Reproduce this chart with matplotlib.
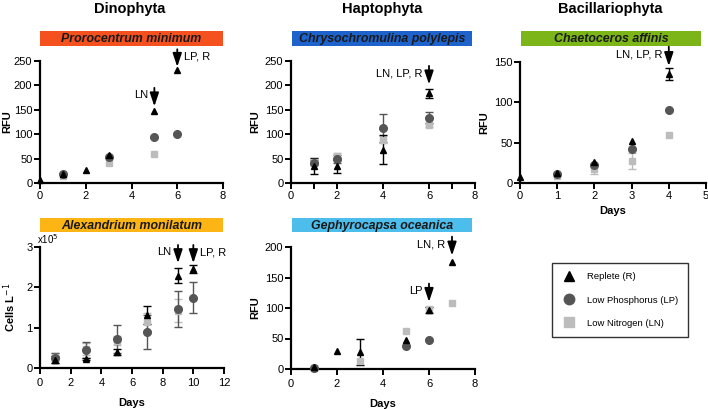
import numpy as np
import matplotlib.pyplot as plt
from matplotlib.lines import Line2D

plt.rcParams['font.family'] = ['Liberation Sans', 'DejaVu Sans']

# colours
c_R = 'black'
c_LP = '#555555'
c_LN = '#bcbcbc'

# --- Prorocentrum minimum (Dinophyta), RFU
pro_R_x = [0, 1, 2, 3, 5, 6]
pro_R_y = [7, 19, 26, 58, 147, 231]
pro_LP_x = [1, 3, 5, 6]
pro_LP_y = [18, 54, 95, 101]
pro_LN_x = [1, 3, 5]
pro_LN_y = [15, 40, 60]

# --- Chrysochromulina polylepis (Haptophyta), RFU
chr_R_x = [1, 2, 4, 6]
chr_R_y = [35, 34, 68, 184]
chr_R_err = [16, 14, 30, 9]
chr_LP_x = [1, 2, 4, 6]
chr_LP_y = [42, 50, 112, 134]
chr_LP_err = [6, 8, 29, 12]
chr_LN_x = [1, 2, 4, 6]
chr_LN_y = [44, 56, 89, 118]
chr_LN_err = [5, 5, 8, 3]

# --- Chaetoceros affinis (Bacillariophyta), RFU
cha_R_x = [0, 1, 2, 3, 4]
cha_R_y = [7, 13, 26, 52, 135]
cha_R_err = [0, 0, 0, 0, 7]
cha_LP_x = [1, 2, 3, 4]
cha_LP_y = [11, 22, 42, 90]
cha_LN_x = [1, 2, 3, 4]
cha_LN_y = [9, 17, 27, 60]
cha_LN_err = [0, 6, 10, 0]

# --- Alexandrium monilatum (Dinophyta), cells L-1 (x10^5)
ale_R_x = [1, 3, 5, 7, 9, 10]
ale_R_y = [0.21, 0.23, 0.40, 1.31, 2.29, 2.46]
ale_R_err = [0.08, 0.03, 0.08, 0.23, 0.18, 0.10]
ale_LP_x = [1, 3, 5, 7, 9, 10]
ale_LP_y = [0.25, 0.44, 0.72, 0.89, 1.46, 1.74]
ale_LP_err = [0.12, 0.20, 0.35, 0.42, 0.45, 0.38]
ale_LN_x = [1, 3, 5, 7, 9]
ale_LN_y = [0.27, 0.48, 0.68, 1.14, 1.42]
ale_LN_err = [0.10, 0.15, 0.12, 0.22, 0.29]

# --- Gephyrocapsa oceanica (Haptophyta), RFU
gep_R_x = [1, 2, 3, 5, 6, 7]
gep_R_y = [4, 30, 28, 48, 96, 175]
gep_R_err = [0, 0, 21, 0, 5, 0]
gep_LP_x = [1, 5, 6]
gep_LP_y = [2, 38, 48]
gep_LN_x = [1, 3, 5, 6, 7]
gep_LN_y = [2, 13, 63, 98, 109]

W, H = 708, 409
fig = plt.figure(figsize=(W / 100, H / 100), dpi=100)


def box(l, t, r, b):
    return [l / W, 1 - b / H, (r - l) / W, (b - t) / H]


def style(ax, xlim, xticks, ylim, yticks, xpad=1.5):
    ax.set_xlim(*xlim)
    ax.set_ylim(*ylim)
    ax.set_xticks(xticks)
    ax.set_yticks(yticks)
    for s in ['top', 'right']:
        ax.spines[s].set_visible(False)
    for s in ['left', 'bottom']:
        ax.spines[s].set_linewidth(1.6)
    ax.tick_params(direction='out', length=4, width=1.4, labelsize=8, pad=1.5)
    ax.tick_params(axis='x', pad=xpad)


def series(ax, x, y, err, color, marker, ms):
    if err is None:
        err = [0] * len(x)
    e = np.array(err, dtype=float)
    ax.errorbar(x, y, yerr=np.where(e > 0, e, np.nan), fmt='none',
                ecolor=color, elinewidth=1.0, capsize=3, capthick=1.0, clip_on=False)
    ax.plot(x, y, linestyle='none', marker=marker, color=color, ms=ms,
            clip_on=False, zorder=3)


def all_series(ax, R, LP, LN):
    series(ax, *LN, c_LN, 's', 5)
    series(ax, *LP, c_LP, 'o', 5.5)
    series(ax, *R, c_R, '^', 5)


def arrow(ax, x, y0, y1, text=None, side='left'):
    ax.annotate('', xy=(x, y1), xytext=(x, y0), annotation_clip=False,
                arrowprops=dict(arrowstyle='-|>,head_width=0.3,head_length=0.9',
                                mutation_scale=9, lw=1.3, color='black',
                                shrinkA=0, shrinkB=0))
    if text:
        xs = ax.get_xlim()
        dx = (xs[1] - xs[0]) * 0.035
        ym = y0 - (y0 - y1) * 0.4
        if side == 'left':
            ax.text(x - dx, ym, text, ha='right', va='center', fontsize=8)
        else:
            ax.text(x + dx, ym, text, ha='left', va='center', fontsize=8)


def banner(l, t, r, b, color, text):
    bx = fig.add_axes(box(l, t, r, b))
    bx.set_facecolor(color)
    bx.set_xticks([])
    bx.set_yticks([])
    for s in bx.spines.values():
        s.set_visible(False)
    bx.text(0.5, 0.45, text, ha='center', va='center', fontsize=8.9,
            fontweight='bold', fontstyle='italic', color='#1a1a1a',
            transform=bx.transAxes)


# titles
fig.text(130 / W, 1 - 9 / H, 'Dinophyta', ha='center', va='center', fontsize=10.5, fontweight='bold')
fig.text(382 / W, 1 - 9 / H, 'Haptophyta', ha='center', va='center', fontsize=10.5, fontweight='bold')
fig.text(610 / W, 1 - 9 / H, 'Bacillariophyta', ha='center', va='center', fontsize=10.5, fontweight='bold')

banner(40, 31, 223, 46, '#F4511E', 'Prorocentrum minimum')
banner(292, 31, 472, 46, '#1E63CC', 'Chrysochromulina polylepis')
banner(521, 31, 701, 46, '#7CB518', 'Chaetoceros affinis')
banner(40, 218, 223, 232, '#FDB515', 'Alexandrium monilatum')
banner(292, 218, 472, 232, '#4DBDEB', 'Gephyrocapsa oceanica')

# Prorocentrum
ax1 = fig.add_axes(box(40, 61, 223, 183))
style(ax1, (0, 8), [0, 2, 4, 6, 8], (0, 250), [0, 50, 100, 150, 200, 250])
all_series(ax1, (pro_R_x, pro_R_y, None), (pro_LP_x, pro_LP_y, None), (pro_LN_x, pro_LN_y, None))
arrow(ax1, 5, 195, 157, 'LN', 'left')
arrow(ax1, 6, 274, 238, 'LP, R', 'right')
ax1.set_ylabel('RFU', fontsize=8, fontweight='bold', labelpad=1.5)

# Chrysochromulina
ax2 = fig.add_axes(box(291, 61, 475, 183))
style(ax2, (0, 8), [0, 2, 4, 6, 8], (0, 250), [0, 50, 100, 150, 200, 250])
ax2.set_xticks([1, 7], minor=True)
ax2.tick_params(which='minor', direction='out', length=4, width=1.4)
all_series(ax2, (chr_R_x, chr_R_y, chr_R_err), (chr_LP_x, chr_LP_y, chr_LP_err),
           (chr_LN_x, chr_LN_y, chr_LN_err))
arrow(ax2, 6, 240, 202, 'LN, LP, R', 'left')
ax2.set_ylabel('RFU', fontsize=8, fontweight='bold', labelpad=3)

# Chaetoceros
ax3 = fig.add_axes(box(520, 62, 706, 183))
style(ax3, (0, 5), [0, 1, 2, 3, 4, 5], (0, 150), [0, 50, 100, 150])
all_series(ax3, (cha_R_x, cha_R_y, cha_R_err), (cha_LP_x, cha_LP_y, None),
           (cha_LN_x, cha_LN_y, cha_LN_err))
arrow(ax3, 4, 169, 145, 'LN, LP, R', 'left')
ax3.set_ylabel('RFU', fontsize=8, fontweight='bold', labelpad=3)
ax3.set_xlabel('Days', fontsize=8, fontweight='bold', labelpad=4)

# Alexandrium
ax4 = fig.add_axes(box(40, 247, 224, 368))
style(ax4, (0, 12), [0, 2, 4, 6, 8, 10, 12], (0, 3), [0, 1, 2, 3], xpad=3.5)
all_series(ax4, (ale_R_x, ale_R_y, ale_R_err), (ale_LP_x, ale_LP_y, ale_LP_err),
           (ale_LN_x, ale_LN_y, ale_LN_err))
arrow(ax4, 9, 3.05, 2.6, 'LN', 'left')
arrow(ax4, 10, 3.05, 2.6, 'LP, R', 'right')
ax4.text(-0.2, 3.02, r'x10$^{5}$', fontsize=7, ha='left', va='bottom')
ax4.set_ylabel(r'Cells L$^{-1}$', fontsize=8, fontweight='bold', labelpad=6)
ax4.set_xlabel('Days', fontsize=8, fontweight='bold', labelpad=7)

# Gephyrocapsa
ax5 = fig.add_axes(box(291, 247, 475, 369))
style(ax5, (0, 8), [0, 2, 4, 6, 8], (0, 200), [0, 50, 100, 150, 200], xpad=3.5)
all_series(ax5, (gep_R_x, gep_R_y, gep_R_err), (gep_LP_x, gep_LP_y, None),
           (gep_LN_x, gep_LN_y, None))
arrow(ax5, 6, 140, 110, 'LP', 'left')
arrow(ax5, 7, 217, 186, 'LN, R', 'left')
ax5.set_ylabel('RFU', fontsize=8, fontweight='bold', labelpad=3)
ax5.set_xlabel('Days', fontsize=8, fontweight='bold', labelpad=7)

# legend
handles = [
    Line2D([], [], ls='none', marker='^', color=c_R, ms=7),
    Line2D([], [], ls='none', marker='o', color=c_LP, ms=7.5),
    Line2D([], [], ls='none', marker='s', color=c_LN, ms=7),
]
labels = ['Replete (R)', 'Low Phosphorus (LP)', 'Low Nitrogen (LN)']
leg = fig.legend(handles, labels, loc='upper left', bbox_to_anchor=(552 / W, 1 - 263 / H),
                 fontsize=6.8, frameon=True, fancybox=False, edgecolor='black',
                 handlelength=1.6, labelspacing=1.5, handletextpad=1.1,
                 borderpad=1.0, borderaxespad=0)
leg.get_frame().set_linewidth(1.0)

fig.savefig('out.png', dpi=100)
